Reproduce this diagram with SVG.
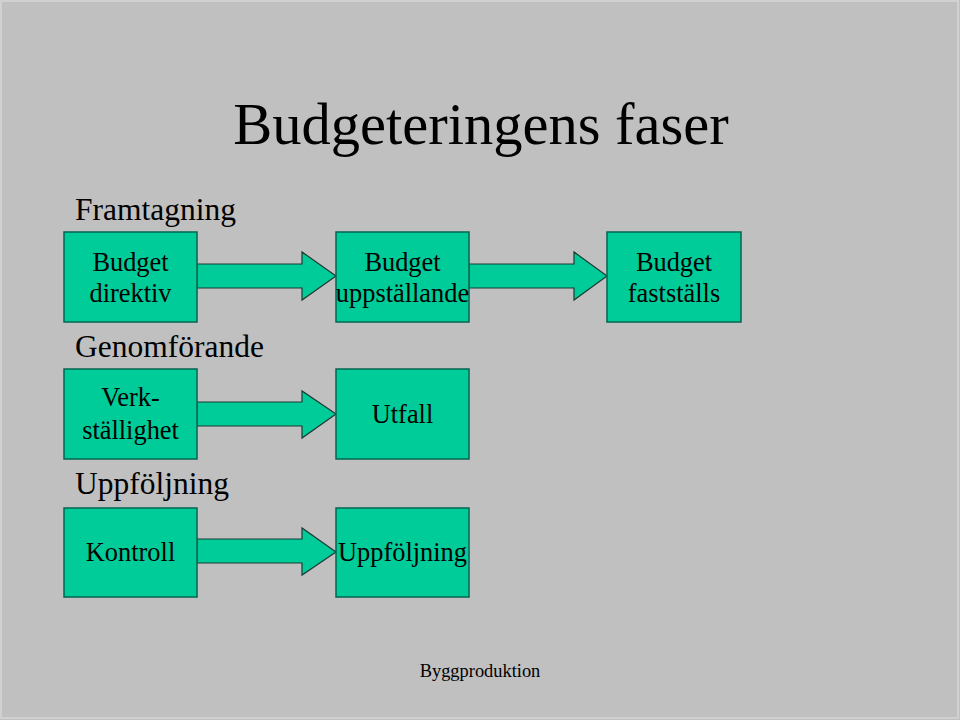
<svg xmlns="http://www.w3.org/2000/svg" width="960" height="720" viewBox="0 0 960 720">
<style>
.box{fill:#00CC99;stroke:#006650;stroke-width:1.5}
.arr{fill:#00CC99;stroke:#1a3a33;stroke-width:1.2}
text{font-family:"Liberation Serif","Times New Roman",serif;fill:#000}
.bt{font-size:26.4px;text-anchor:middle}
.hd{font-size:31.5px}
</style>
<rect x="0" y="0" width="960" height="720" fill="#C0C0C0"/>
<rect x="1" y="1" width="957" height="717" fill="none" stroke="#D6D6D6" stroke-width="1.5"/>
<text x="481" y="144" font-size="58.5" text-anchor="middle">Budgeteringens faser</text>
<text class="hd" x="75" y="220">Framtagning</text>
<text class="hd" x="75" y="357">Genomförande</text>
<text class="hd" x="75" y="494">Uppföljning</text>
<g id="connectors">
<path class="arr" d="M197,264 H302 V252 L336,276 L302,300 V288 H197 Z"/>
<path class="arr" d="M469,264 H574 V252 L607,276 L574,300 V288 H469 Z"/>
<path class="arr" d="M197,402 H302 V391 L336,414 L302,438 V426 H197 Z"/>
<path class="arr" d="M197,539 H302 V528 L336,552 L302,575 V563 H197 Z"/>
</g>
<g id="n1"><rect class="box" x="64" y="232" width="133" height="90"/><text class="bt" x="130.5" y="271">Budget</text><text class="bt" x="130.5" y="302">direktiv</text></g>
<g id="n2"><rect class="box" x="336" y="232" width="133" height="90"/><text class="bt" x="402.5" y="271">Budget</text><text class="bt" x="402.5" y="302">uppställande</text></g>
<g id="n3"><rect class="box" x="607" y="232" width="134" height="90"/><text class="bt" x="674" y="271">Budget</text><text class="bt" x="674" y="302">fastställs</text></g>
<g id="n4"><rect class="box" x="64" y="369" width="133" height="90"/><text class="bt" x="130.5" y="406">Verk-</text><text class="bt" x="130.5" y="439">ställighet</text></g>
<g id="n5"><rect class="box" x="336" y="369" width="133" height="90"/><text class="bt" x="402.5" y="423">Utfall</text></g>
<g id="n6"><rect class="box" x="64" y="508" width="133" height="89"/><text class="bt" x="130.5" y="561">Kontroll</text></g>
<g id="n7"><rect class="box" x="336" y="508" width="133" height="89"/><text class="bt" x="402.5" y="561">Uppföljning</text></g>
<text x="480" y="677" font-size="18.4" text-anchor="middle">Byggproduktion</text>
</svg>
